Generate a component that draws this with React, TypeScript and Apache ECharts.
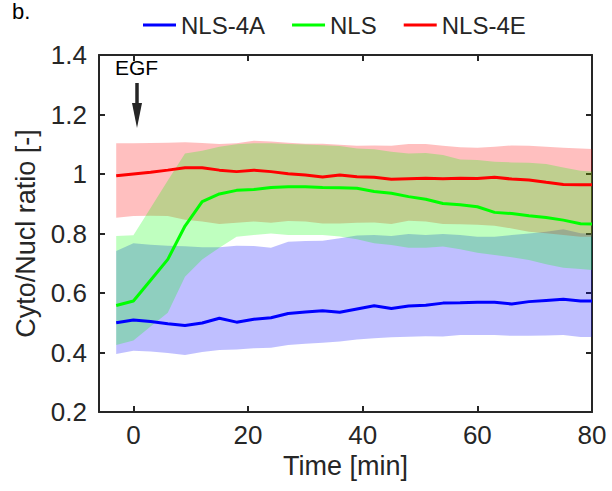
import React, { useEffect, useRef } from "react";
import * as echarts from "echarts";

const times = [-3, 0, 3, 6, 9, 12, 15, 18, 21, 24, 27, 30, 33, 36, 39, 42, 45, 48, 51, 54, 57, 60, 63, 66, 69, 72, 75, 78, 80];

const nls4aMean = [0.500, 0.509, 0.504, 0.497, 0.491, 0.499, 0.515, 0.502, 0.512, 0.517, 0.531, 0.536, 0.540, 0.535, 0.546, 0.557, 0.548, 0.556, 0.559, 0.566, 0.567, 0.569, 0.569, 0.563, 0.571, 0.575, 0.579, 0.573, 0.573];
const nls4aLower = [0.395, 0.406, 0.403, 0.398, 0.392, 0.402, 0.408, 0.410, 0.414, 0.416, 0.425, 0.429, 0.433, 0.437, 0.444, 0.448, 0.451, 0.453, 0.455, 0.454, 0.459, 0.459, 0.459, 0.456, 0.456, 0.457, 0.459, 0.452, 0.452];
const nls4aUpper = [0.741, 0.767, 0.762, 0.759, 0.757, 0.754, 0.754, 0.759, 0.758, 0.752, 0.772, 0.775, 0.776, 0.784, 0.793, 0.795, 0.792, 0.798, 0.795, 0.798, 0.795, 0.789, 0.789, 0.795, 0.800, 0.806, 0.814, 0.801, 0.799];

const nlsMean = [0.558, 0.573, 0.643, 0.713, 0.825, 0.907, 0.933, 0.945, 0.948, 0.955, 0.957, 0.957, 0.955, 0.954, 0.952, 0.941, 0.935, 0.924, 0.915, 0.901, 0.897, 0.890, 0.871, 0.867, 0.860, 0.854, 0.845, 0.833, 0.832];
const nlsLower = [0.425, 0.440, 0.487, 0.534, 0.655, 0.713, 0.752, 0.789, 0.795, 0.800, 0.795, 0.795, 0.795, 0.790, 0.781, 0.767, 0.761, 0.752, 0.752, 0.756, 0.747, 0.735, 0.728, 0.720, 0.711, 0.697, 0.685, 0.681, 0.677];
const nlsUpper = [0.792, 0.794, 0.886, 0.978, 1.069, 1.078, 1.092, 1.100, 1.103, 1.103, 1.101, 1.099, 1.097, 1.094, 1.086, 1.083, 1.075, 1.069, 1.071, 1.064, 1.049, 1.047, 1.041, 1.039, 1.038, 1.034, 1.022, 1.011, 1.008];

const nls4eMean = [0.994, 1.000, 1.006, 1.013, 1.021, 1.021, 1.013, 1.008, 1.013, 1.008, 1.001, 0.997, 0.990, 0.997, 0.991, 0.989, 0.982, 0.984, 0.986, 0.984, 0.986, 0.985, 0.989, 0.983, 0.980, 0.972, 0.965, 0.964, 0.964];
const nls4eLower = [0.853, 0.859, 0.860, 0.859, 0.846, 0.840, 0.832, 0.836, 0.840, 0.836, 0.842, 0.840, 0.834, 0.834, 0.836, 0.837, 0.832, 0.843, 0.840, 0.832, 0.831, 0.829, 0.826, 0.817, 0.806, 0.801, 0.795, 0.789, 0.789];
const nls4eUpper = [1.103, 1.103, 1.104, 1.105, 1.107, 1.104, 1.101, 1.103, 1.112, 1.109, 1.105, 1.102, 1.102, 1.098, 1.095, 1.096, 1.095, 1.101, 1.101, 1.095, 1.090, 1.088, 1.092, 1.096, 1.095, 1.092, 1.088, 1.086, 1.084];

const xTicks = [0, 20, 40, 60, 80];
const seriesNames = ["NLS-4A", "NLS", "NLS-4E"];

const FONT = "'Liberation Sans', Arial, Helvetica, sans-serif";
const AX = "#262626";

function bandSeries(name: string, lower: number[], upper: number[], fill: string) {
  return {
    type: "custom",
    name,
    coordinateSystem: "cartesian2d",
    xAxisIndex: 0,
    yAxisIndex: 0,
    silent: true,
    z: 1,
    encode: { x: 0, y: [1, 2] },
    data: times.map((t, i) => [t, lower[i], upper[i]]),
    renderItem: (params: any, api: any) => {
      if (params.dataIndex !== 0) return null;
      const top = times.map((t, i) => api.coord([t, upper[i]]));
      const bottom = times.map((t, i) => api.coord([t, lower[i]])).reverse();
      return {
        type: "polygon",
        shape: { points: top.concat(bottom) },
        style: { fill, stroke: null },
      };
    },
  };
}

function lineSeries(name: string, mean: number[], color: string) {
  return {
    type: "line",
    name,
    xAxisIndex: 0,
    yAxisIndex: 0,
    data: times.map((t, i) => [t, mean[i]]),
    symbol: "none",
    showSymbol: false,
    color,
    itemStyle: { color },
    lineStyle: { color, width: 3 },
    z: 5,
  };
}

export default function App() {
  const ref = useRef<HTMLDivElement>(null);
  useEffect(() => {
    if (!ref.current) return;
    const chart = echarts.init(ref.current, undefined, { renderer: "svg" });
    chart.setOption({
      animation: false,
      backgroundColor: "#ffffff",
      textStyle: { fontFamily: FONT },
      grid: { left: 99, right: 20, top: 55, bottom: 79, containLabel: false },
      legend: {
        data: seriesNames,
        left: 138,
        top: 8,
        icon: "rect",
        itemWidth: 33,
        itemHeight: 3,
        itemGap: 27,
        textStyle: { fontSize: 24, color: AX, fontFamily: FONT },
      },
      xAxis: [
        {
          type: "value",
          min: -6,
          max: 80,
          position: "bottom",
          name: "Time [min]",
          nameLocation: "middle",
          nameGap: 40,
          nameTextStyle: { fontSize: 27, color: AX, fontFamily: FONT },
          axisLine: { show: true, onZero: false, lineStyle: { color: AX, width: 2 } },
          axisTick: { show: true, inside: true, length: 6, customValues: xTicks, lineStyle: { color: AX, width: 2 } },
          axisLabel: { show: true, customValues: xTicks, fontSize: 26, color: AX, margin: 10, fontFamily: FONT },
          splitLine: { show: false },
        },
        {
          type: "value",
          min: -6,
          max: 80,
          position: "top",
          axisLine: { show: true, onZero: false, lineStyle: { color: AX, width: 2 } },
          axisTick: { show: true, inside: true, length: 6, customValues: xTicks, lineStyle: { color: AX, width: 2 } },
          axisLabel: { show: false },
          splitLine: { show: false },
        },
      ],
      yAxis: [
        {
          type: "value",
          min: 0.2,
          max: 1.4,
          interval: 0.2,
          position: "left",
          name: "Cyto/Nucl ratio [-]",
          nameLocation: "middle",
          nameGap: 60,
          nameTextStyle: { fontSize: 27, color: AX, fontFamily: FONT },
          axisLine: { show: true, onZero: false, lineStyle: { color: AX, width: 2 } },
          axisTick: { show: true, inside: true, length: 6, lineStyle: { color: AX, width: 2 } },
          axisLabel: { show: true, fontSize: 26, color: AX, margin: 12, fontFamily: FONT },
          splitLine: { show: false },
        },
        {
          type: "value",
          min: 0.2,
          max: 1.4,
          interval: 0.2,
          position: "right",
          axisLine: { show: true, onZero: false, lineStyle: { color: AX, width: 2 } },
          axisTick: { show: true, inside: true, length: 6, lineStyle: { color: AX, width: 2 } },
          axisLabel: { show: false },
          splitLine: { show: false },
        },
      ],
      series: [
        bandSeries("NLS-4A band", nls4aLower, nls4aUpper, "rgba(0,0,255,0.25)"),
        bandSeries("NLS-4E band", nls4eLower, nls4eUpper, "rgba(255,0,0,0.25)"),
        bandSeries("NLS band", nlsLower, nlsUpper, "rgba(0,255,0,0.25)"),
        lineSeries("NLS-4A", nls4aMean, "#0000ff"),
        lineSeries("NLS", nlsMean, "#00ff00"),
        lineSeries("NLS-4E", nls4eMean, "#ff0000"),
      ],
      graphic: [
        {
          type: "text",
          left: 12,
          top: 0,
          style: { text: "b.", fontSize: 22, fill: "#000", fontFamily: FONT },
        },
        {
          type: "text",
          left: 115,
          top: 57,
          style: { text: "EGF", fontSize: 21, fill: "#000", fontFamily: FONT },
        },
        {
          type: "line",
          shape: { x1: 137, y1: 83, x2: 137, y2: 106 },
          style: { stroke: "#262626", lineWidth: 3.5 },
        },
        {
          type: "polygon",
          shape: { points: [[132, 103], [142, 103], [137, 128]] },
          style: { fill: "#262626" },
        },
      ],
    });
    return () => chart.dispose();
  }, []);
  return <div ref={ref} style={{ width: 612, height: 491, position: "absolute", left: 0, top: 0 }} />;
}
